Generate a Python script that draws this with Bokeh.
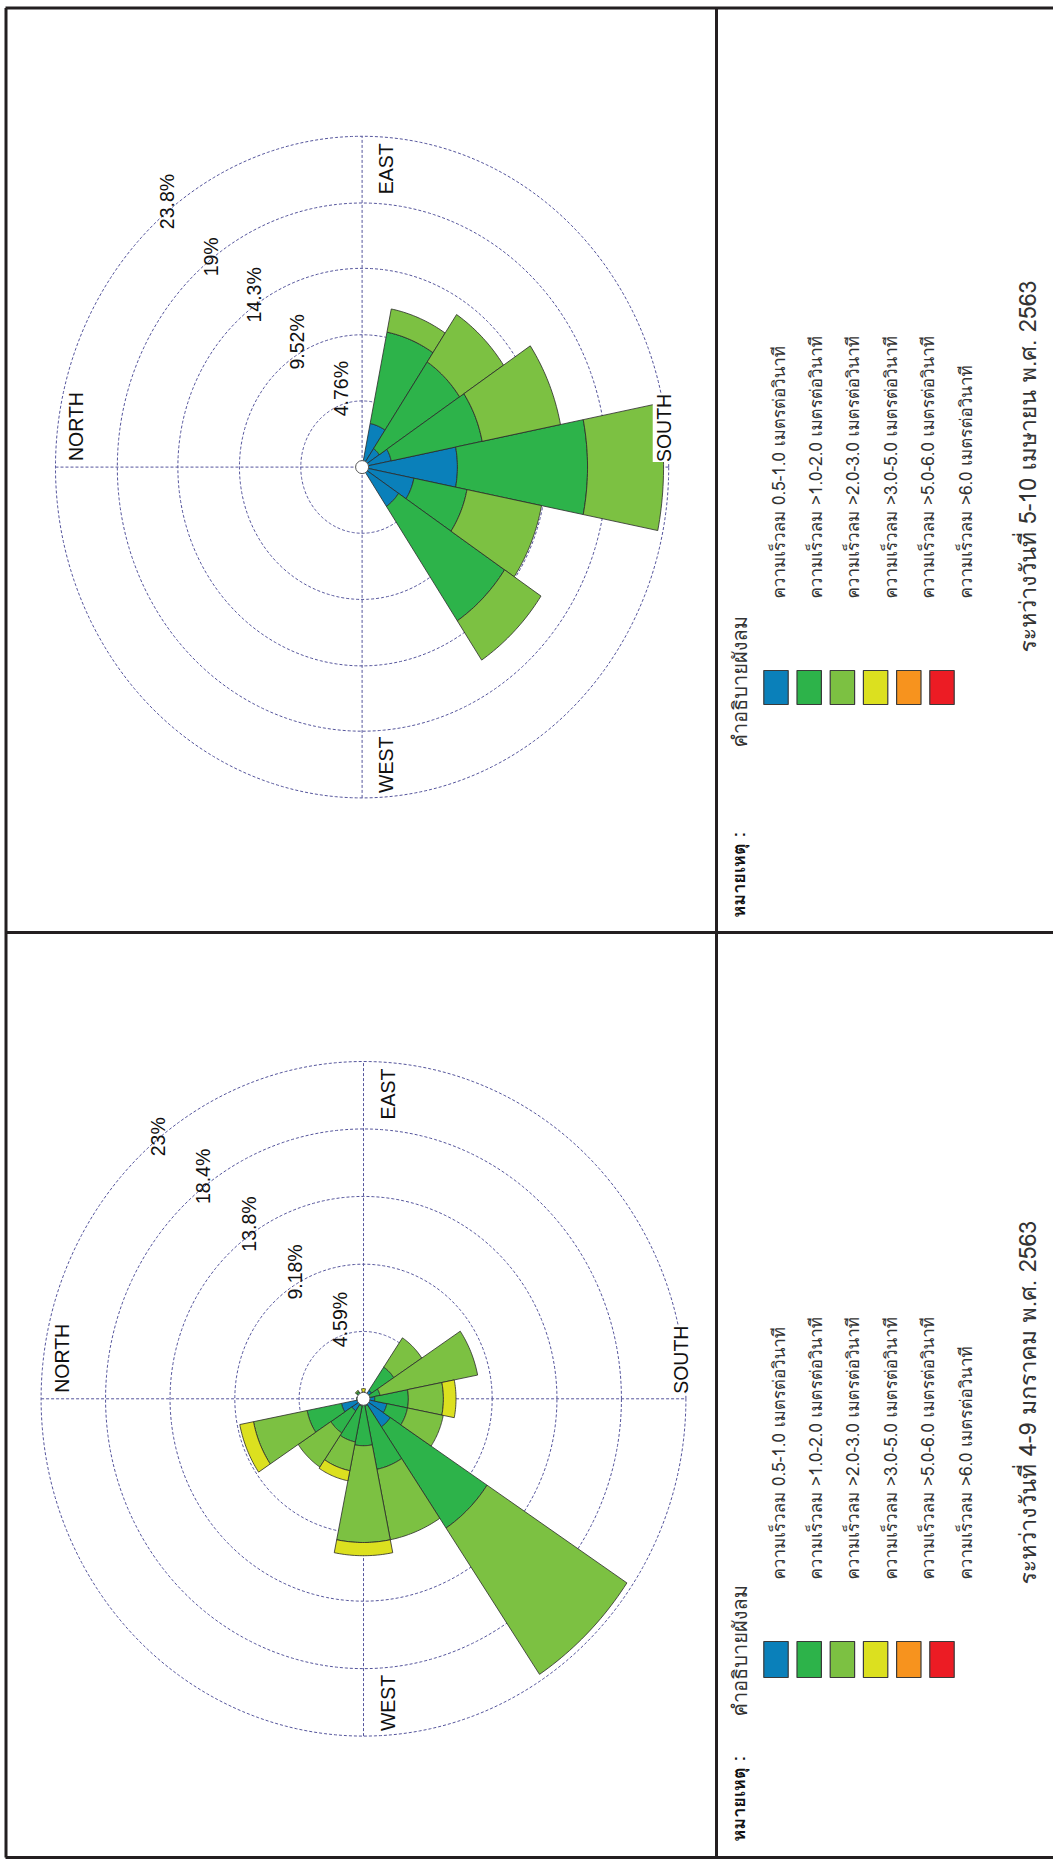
import numpy as np
from bokeh.plotting import figure
from bokeh.models import Range1d
from bokeh.core.properties import value
from bokeh.embed import file_html
from bokeh.resources import INLINE

PAGE_W, PAGE_H = 1053, 1863

# 16 compass sectors, clockwise from north
bearings = [0.0, 22.5, 45.0, 67.5, 90.0, 112.5, 135.0, 157.5,
            180.0, 202.5, 225.0, 247.5, 270.0, 292.5, 315.0, 337.5]

speed_labels = [
    "ความเร็วลม 0.5-1.0 เมตรต่อวินาที",
    "ความเร็วลม >1.0-2.0 เมตรต่อวินาที",
    "ความเร็วลม >2.0-3.0 เมตรต่อวินาที",
    "ความเร็วลม >3.0-5.0 เมตรต่อวินาที",
    "ความเร็วลม >5.0-6.0 เมตรต่อวินาที",
    "ความเร็วลม >6.0 เมตรต่อวินาที",
]
speed_colors = ["#0a80ba", "#2db34a", "#7cc142", "#dce01f", "#f7931e", "#ec1c24"]

# 5-10 April 2020: frequency (%) by sector for each speed class
apr_05_10 = [0, 0, 0, 0, 0, 3.2, 1.6, 2.3, 7.4, 4.1, 3.4, 0, 0, 0, 0, 0]
apr_10_20 = [0, 0, 0, 0, 0, 6.7, 7.5, 7.2, 10.1, 4.2, 9.9, 0, 0.2, 0, 0, 0]
apr_20_30 = [0, 0, 0, 0, 0, 1.7, 4.1, 6.2, 5.9, 5.9, 3.4, 0, 0, 0, 0, 0]
apr_30_50 = [0, 0, 0, 0, 0, 0, 0, 0, 0, 0, 0, 0, 0, 0, 0, 0]
apr_50_60 = [0, 0, 0, 0, 0, 0, 0, 0, 0, 0, 0, 0, 0, 0, 0, 0]
apr_60_up = [0, 0, 0, 0, 0, 0, 0, 0, 0, 0, 0, 0, 0, 0, 0, 0]

# 4-9 January 2020
jan_05_10 = [0, 0, 0, 0, 0.1, 0, 0.7, 0.4, 0.8, 1.7, 2.3, 0.5, 0.4, 0.5, 1.0, 1.6]
jan_10_20 = [0.5, 0, 0.6, 0, 0.2, 0, 1.9, 0.8, 2.4, 1.5, 8.3, 4.4, 2.8, 2.5, 1.8, 2.5]
jan_20_30 = [0, 0, 0.1, 0, 0.15, 0, 2.4, 7.1, 2.5, 2.6, 12.0, 4.9, 6.6, 2.0, 2.8, 3.9]
jan_30_50 = [0, 0, 0, 0, 0.25, 0, 0, 0, 0.9, 0, 0, 0, 0.9, 0.7, 0, 1.0]
jan_50_60 = [0, 0, 0, 0, 0, 0, 0, 0, 0, 0, 0, 0, 0, 0, 0, 0]
jan_60_up = [0, 0, 0, 0, 0, 0, 0, 0, 0, 0, 0, 0, 0, 0, 0, 0]

apr_rings = [4.76, 9.52, 14.3, 19.0, 23.8]
apr_ring_labels = ["4.76%", "9.52%", "14.3%", "19%", "23.8%"]
jan_rings = [4.59, 9.18, 13.8, 18.4, 23.0]
jan_ring_labels = ["4.59%", "9.18%", "13.8%", "18.4%", "23%"]

compass_labels = ["NORTH", "EAST", "SOUTH", "WEST"]

apr_title = "ระหว่างวันที่ 5-10 เมษายน พ.ศ. 2563"
jan_title = "ระหว่างวันที่ 4-9 มกราคม พ.ศ. 2563"
legend_heading = "คำอธิบายผังลม"
note_heading = "หมายเหตุ :"

LATIN = value("Liberation Sans")
THAI = value("Loma, 'Noto Sans Thai', 'Noto Sans', sans-serif")
RING_COLOR = "#55559c"
FRAME_COLOR = "#231f20"
UP = np.pi / 2

p = figure(width=PAGE_W, height=PAGE_H,
           x_range=Range1d(0, PAGE_W), y_range=Range1d(PAGE_H, 0),
           x_axis_location=None, y_axis_location=None,
           toolbar_location=None, output_backend="svg",
           min_border=0, outline_line_color=None,
           background_fill_color="white", border_fill_color="white")
p.grid.visible = False


def draw_rose(key, cx, cy, sx, sy, classes, rings, ring_labels):
    """Wind rose rotated a quarter turn: north to the left, east up."""
    xr, yr = key + "_x", key + "_y"
    ex = dict(p.extra_x_ranges)
    ey = dict(p.extra_y_ranges)
    ex[xr] = Range1d(-cx / sx, (PAGE_W - cx) / sx)
    ey[yr] = Range1d(-(PAGE_H - cy) / sy, cy / sy)
    p.extra_x_ranges = ex
    p.extra_y_ranges = ey
    kw = dict(x_range_name=xr, y_range_name=yr)

    # dashed rings and the two axes
    t = np.linspace(0, 2 * np.pi, 361)
    p.multi_line([list(r * np.cos(t)) for r in rings],
                 [list(r * np.sin(t)) for r in rings],
                 line_color=RING_COLOR, line_width=1, line_dash="3 2", **kw)
    R = rings[-1]
    p.multi_line([[-R, R], [0, 0]], [[0, 0], [-R, R]],
                 line_color=RING_COLOR, line_width=1, line_dash="3 2", **kw)

    # stacked sectors
    xs, ys, fills = [], [], []
    base = np.zeros(len(bearings))
    for vals, col in zip(classes, speed_colors):
        vals = np.asarray(vals, dtype=float)
        for i, b in enumerate(bearings):
            if vals[i] <= 0:
                continue
            r0, r1 = base[i], base[i] + vals[i]
            a = np.radians(np.linspace(b - 11.25, b + 11.25, 24))
            ang = np.concatenate([a, a[::-1]])
            rad = np.concatenate([np.full(a.size, r1), np.full(a.size, r0)])
            xs.append(list(-rad * np.cos(ang)))
            ys.append(list(rad * np.sin(ang)))
            fills.append(col)
        base = base + vals
    p.patches(xs, ys, fill_color=fills, line_color="#2a2a2a",
              line_width=0.8, **kw)

    # calm circle
    p.scatter([0], [0], marker="circle", size=13, fill_color="white",
              line_color="#555555", line_width=1, **kw)

    # ring values along the north-east diagonal
    d = np.radians(45)
    p.text([-r * np.cos(d) for r in rings], [r * np.sin(d) for r in rings],
           text=ring_labels, angle=UP, text_font=LATIN,
           text_font_size="19.5px", text_color="#111111",
           text_align="left", text_baseline="alphabetic",
           x_offset=22, y_offset=-4, **kw)

    # compass words
    p.text([-R], [0], text=[compass_labels[0]], angle=UP, text_font=LATIN,
           text_font_size="19.5px", text_color="#111111", text_align="left",
           text_baseline="alphabetic", x_offset=21, y_offset=-6, **kw)
    p.text([0], [R], text=[compass_labels[1]], angle=UP, text_font=LATIN,
           text_font_size="19.5px", text_color="#111111", text_align="right",
           text_baseline="alphabetic", x_offset=24, y_offset=7, **kw)
    p.text([R], [0], text=[compass_labels[2]], angle=UP, text_font=LATIN,
           text_font_size="19.5px", text_color="#111111", text_align="left",
           text_baseline="alphabetic", x_offset=-5, y_offset=-5,
           background_fill_color="white", **kw)
    p.text([0], [-R], text=[compass_labels[3]], angle=UP, text_font=LATIN,
           text_font_size="19.5px", text_color="#111111", text_align="left",
           text_baseline="alphabetic", x_offset=24, y_offset=-5, **kw)


def draw_legend(text_x, text_y0, sw_x0, sw_top, sw_bot, head_y, note_y,
                title, title_x, title_y):
    p.text(text_x, [text_y0] * len(speed_labels), text=speed_labels,
           angle=UP, text_font=THAI, text_font_size="17px",
           text_color="#333333", text_align="left", text_baseline="alphabetic")
    lefts = [sw_x0 + 33.2 * i for i in range(len(speed_colors))]
    p.quad(left=lefts, right=[v + 24.4 for v in lefts],
           top=[sw_top] * len(lefts), bottom=[sw_bot] * len(lefts),
           fill_color=speed_colors, line_color="#3a3a3a", line_width=1.2)
    p.text([739], [head_y], text=[legend_heading], angle=UP, text_font=THAI,
           text_font_size="20px", text_color="#333333",
           text_align="left", text_baseline="alphabetic")
    p.text([738], [note_y], text=[note_heading], angle=UP, text_font=THAI,
           text_font_size="18px", text_font_style="bold", text_color="#111111",
           text_align="left", text_baseline="alphabetic")
    p.text([title_x], [title_y], text=[title], angle=UP, text_font=THAI,
           text_font_size="23px", text_color="#333333",
           text_align="left", text_baseline="alphabetic")


draw_rose("apr", 361.6, 466.6, 12.883, 13.90,
          [apr_05_10, apr_10_20, apr_20_30, apr_30_50, apr_50_60, apr_60_up],
          apr_rings, apr_ring_labels)
draw_rose("jan", 363.0, 1398.3, 14.018, 14.665,
          [jan_05_10, jan_10_20, jan_20_30, jan_30_50, jan_50_60, jan_60_up],
          jan_rings, jan_ring_labels)

draw_legend([778, 815, 852, 890, 927, 965], 598, 763.3, 670, 704, 747, 917,
            apr_title, 1027, 652)
draw_legend([778, 815, 852, 890, 927, 965], 1579, 763.3, 1641, 1677, 1716, 1841,
            jan_title, 1027, 1584)

# page frame and dividers
p.multi_line([[5, PAGE_W], [5, PAGE_W], [5, PAGE_W], [5.5, 5.5], [716, 716]],
             [[7.5, 7.5], [932, 932], [1857, 1857], [7.5, 1857], [7.5, 1857]],
             line_color=FRAME_COLOR, line_width=3)

open("out.html", "w").write(file_html(p, INLINE))
